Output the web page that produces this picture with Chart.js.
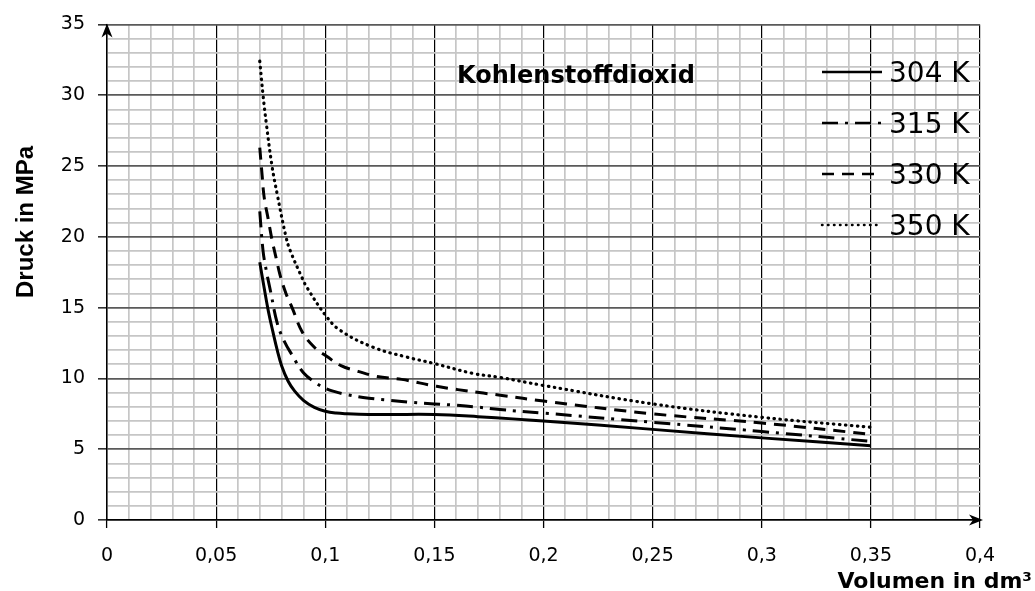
<!DOCTYPE html>
<html>
<head>
<meta charset="utf-8">
<script src="https://cdn.jsdelivr.net/npm/chart.js@4.4.0/dist/chart.umd.min.js"></script>
<style>
  body { margin: 0; background: #fff; }
  #wrap { width: 1035px; height: 591px; }
</style>
</head>
<body>
<div id="wrap"><canvas id="chart"></canvas></div>
<script>
// Isothermen von CO2: Volumen in dm³ (x) und Druck in MPa (y)
const chartTitle = 'Kohlenstoffdioxid';
const xTitle = 'Volumen in dm³';
const yTitle = 'Druck in MPa';

const xTickLabels = ['0', '0,05', '0,1', '0,15', '0,2', '0,25', '0,3', '0,35', '0,4'];
const yTickLabels = ['0', '5', '10', '15', '20', '25', '30', '35'];

const seriesNames = ['304 K', '315 K', '330 K', '350 K'];

const v304 = [0.07, 0.072, 0.074, 0.076, 0.078, 0.08, 0.083, 0.086, 0.09, 0.095, 0.1, 0.105, 0.11, 0.12, 0.13, 0.15, 0.17, 0.2, 0.25, 0.3, 0.35];
const p304 = [18.2, 16.4, 14.7, 13.3, 12.0, 10.9, 9.8, 9.1, 8.45, 7.95, 7.68, 7.55, 7.5, 7.45, 7.45, 7.45, 7.3, 7.0, 6.4, 5.8, 5.25];

const v315 = [0.07, 0.0715, 0.073, 0.075, 0.078, 0.081, 0.085, 0.09, 0.096, 0.1, 0.104, 0.11, 0.12, 0.13, 0.14, 0.15, 0.16, 0.17, 0.18, 0.2, 0.25, 0.3, 0.35];
const p315 = [21.8, 19.0, 17.6, 16.1, 13.9, 12.7, 11.6, 10.4, 9.65, 9.3, 9.08, 8.85, 8.6, 8.45, 8.3, 8.2, 8.1, 7.97, 7.8, 7.55, 6.9, 6.25, 5.55];

const v330 = [0.07, 0.0711, 0.072, 0.0738, 0.0756, 0.0775, 0.0793, 0.082, 0.0848, 0.0894, 0.095, 0.1008, 0.1072, 0.115, 0.1237, 0.135, 0.151, 0.1705, 0.181, 0.2, 0.25, 0.3, 0.35];
const p330 = [26.3, 24.3, 22.8, 21.3, 19.8, 18.5, 17.3, 16.0, 15.0, 13.3, 12.2, 11.55, 10.9, 10.5, 10.14, 9.93, 9.44, 9.0, 8.8, 8.4, 7.5, 6.85, 6.05];

const v350 = [0.07, 0.0715, 0.073, 0.0756, 0.078, 0.082, 0.084, 0.0894, 0.0917, 0.1004, 0.1068, 0.1219, 0.1375, 0.15, 0.1677, 0.18, 0.2, 0.25, 0.3, 0.35];
const p350 = [32.4, 30.0, 28.0, 25.0, 23.0, 20.0, 19.0, 17.1, 16.4, 14.4, 13.4, 12.2, 11.5, 11.05, 10.35, 10.07, 9.5, 8.2, 7.25, 6.55];

const toPoints = (xs, ys) => xs.map((v, i) => ({ x: v, y: ys[i] }));

const lineStyle = (width, dash, cap) => ({
    borderColor: '#000',
    borderWidth: width,
    borderDash: dash,
    borderCapStyle: cap,
    pointRadius: 0,
    tension: 0.4,
    fill: false
});

// achsenpfeile, titel und legende
const extras = {
    id: 'extras',
    afterDraw(chart) {
        const ctx = chart.ctx;
        const xs = chart.scales.x, ys = chart.scales.y;
        const x0 = xs.getPixelForValue(0), xEnd = xs.getPixelForValue(0.4);
        const y0 = ys.getPixelForValue(0), yTop = ys.getPixelForValue(35);
        ctx.save();
        ctx.fillStyle = '#000';

        ctx.beginPath();
        ctx.moveTo(x0, yTop - 1);
        ctx.lineTo(x0 - 5.5, yTop + 13);
        ctx.lineTo(x0, yTop + 9);
        ctx.lineTo(x0 + 5.5, yTop + 13);
        ctx.closePath();
        ctx.fill();

        ctx.beginPath();
        ctx.moveTo(xEnd + 3, y0);
        ctx.lineTo(xEnd - 11, y0 - 5.5);
        ctx.lineTo(xEnd - 7, y0);
        ctx.lineTo(xEnd - 11, y0 + 5.5);
        ctx.closePath();
        ctx.fill();

        ctx.textBaseline = 'alphabetic';
        ctx.textAlign = 'center';
        ctx.font = 'bold 24px "DejaVu Sans"';
        ctx.fillText(chartTitle, 576, 83);

        ctx.save();
        ctx.translate(33, 222);
        ctx.rotate(-Math.PI / 2);
        ctx.font = 'bold 24px "Liberation Sans"';
        ctx.fillText(yTitle, 0, 0);
        ctx.restore();

        ctx.textAlign = 'right';
        ctx.font = 'bold 22px "DejaVu Sans"';
        ctx.fillText(xTitle, 1032, 588);

        chart.data.datasets.forEach((ds, i) => {
            const ly = 72 + i * 51;
            ctx.save();
            ctx.strokeStyle = ds.borderColor;
            ctx.lineWidth = Math.min(ds.borderWidth, 2.5);
            ctx.setLineDash(ds.borderDash || []);
            ctx.lineCap = ds.borderCapStyle || 'butt';
            ctx.beginPath();
            ctx.moveTo(822, ly);
            ctx.lineTo(882, ly);
            ctx.stroke();
            ctx.restore();
            ctx.textAlign = 'left';
            ctx.font = '28px "DejaVu Sans"';
            ctx.fillText(ds.label, 889, ly + 10);
        });
        ctx.restore();
    }
};

const isMajor = (c) => c.index % 5 === 0;

new Chart(document.getElementById('chart'), {
    type: 'line',
    data: {
        datasets: [
            { label: seriesNames[0], data: toPoints(v304, p304), ...lineStyle(3, [], 'butt') },
            { label: seriesNames[1], data: toPoints(v315, p315), ...lineStyle(3, [16, 7, 3, 7], 'butt') },
            { label: seriesNames[2], data: toPoints(v330, p330), ...lineStyle(3, [12, 8], 'butt') },
            { label: seriesNames[3], data: toPoints(v350, p350), ...lineStyle(3.2, [0.5, 5.5], 'round') }
        ]
    },
    options: {
        responsive: true,
        maintainAspectRatio: false,
        animation: false,
        events: [],
        layout: { padding: { top: 23, right: 55, bottom: 0, left: 0 } },
        plugins: {
            legend: { display: false },
            tooltip: { enabled: false }
        },
        scales: {
            x: {
                type: 'linear',
                min: 0,
                max: 0.4,
                afterFit(scale) { scale.height = 71; },
                ticks: {
                    stepSize: 0.01,
                    autoSkip: false,
                    maxRotation: 0,
                    padding: 17,
                    color: '#000',
                    font: { family: 'DejaVu Sans', size: 19 },
                    callback: (v, i) => i % 5 === 0 ? xTickLabels[i / 5] : ''
                },
                grid: {
                    color: c => isMajor(c) ? '#000' : '#c6c6c6',
                    lineWidth: c => isMajor(c) ? 1.2 : 1.7,
                    tickColor: c => isMajor(c) ? '#000' : 'rgba(0,0,0,0)',
                    tickLength: 8,
                    tickWidth: 1.3
                },
                border: { display: true, color: '#000', width: 1.5 }
            },
            y: {
                min: 0,
                max: 35,
                afterFit(scale) { scale.width = 107; },
                ticks: {
                    stepSize: 1,
                    autoSkip: false,
                    padding: 13,
                    color: '#000',
                    font: { family: 'DejaVu Sans', size: 19 },
                    callback: (v, i) => i % 5 === 0 ? yTickLabels[i / 5] : ''
                },
                grid: {
                    color: c => isMajor(c) ? '#5a5a5a' : '#c6c6c6',
                    lineWidth: 1.7,
                    tickColor: c => isMajor(c) ? '#000' : 'rgba(0,0,0,0)',
                    tickLength: 9,
                    tickWidth: 1.3
                },
                border: { display: true, color: '#000', width: 1.5 }
            }
        }
    },
    plugins: [extras]
});
</script>
</body>
</html>
